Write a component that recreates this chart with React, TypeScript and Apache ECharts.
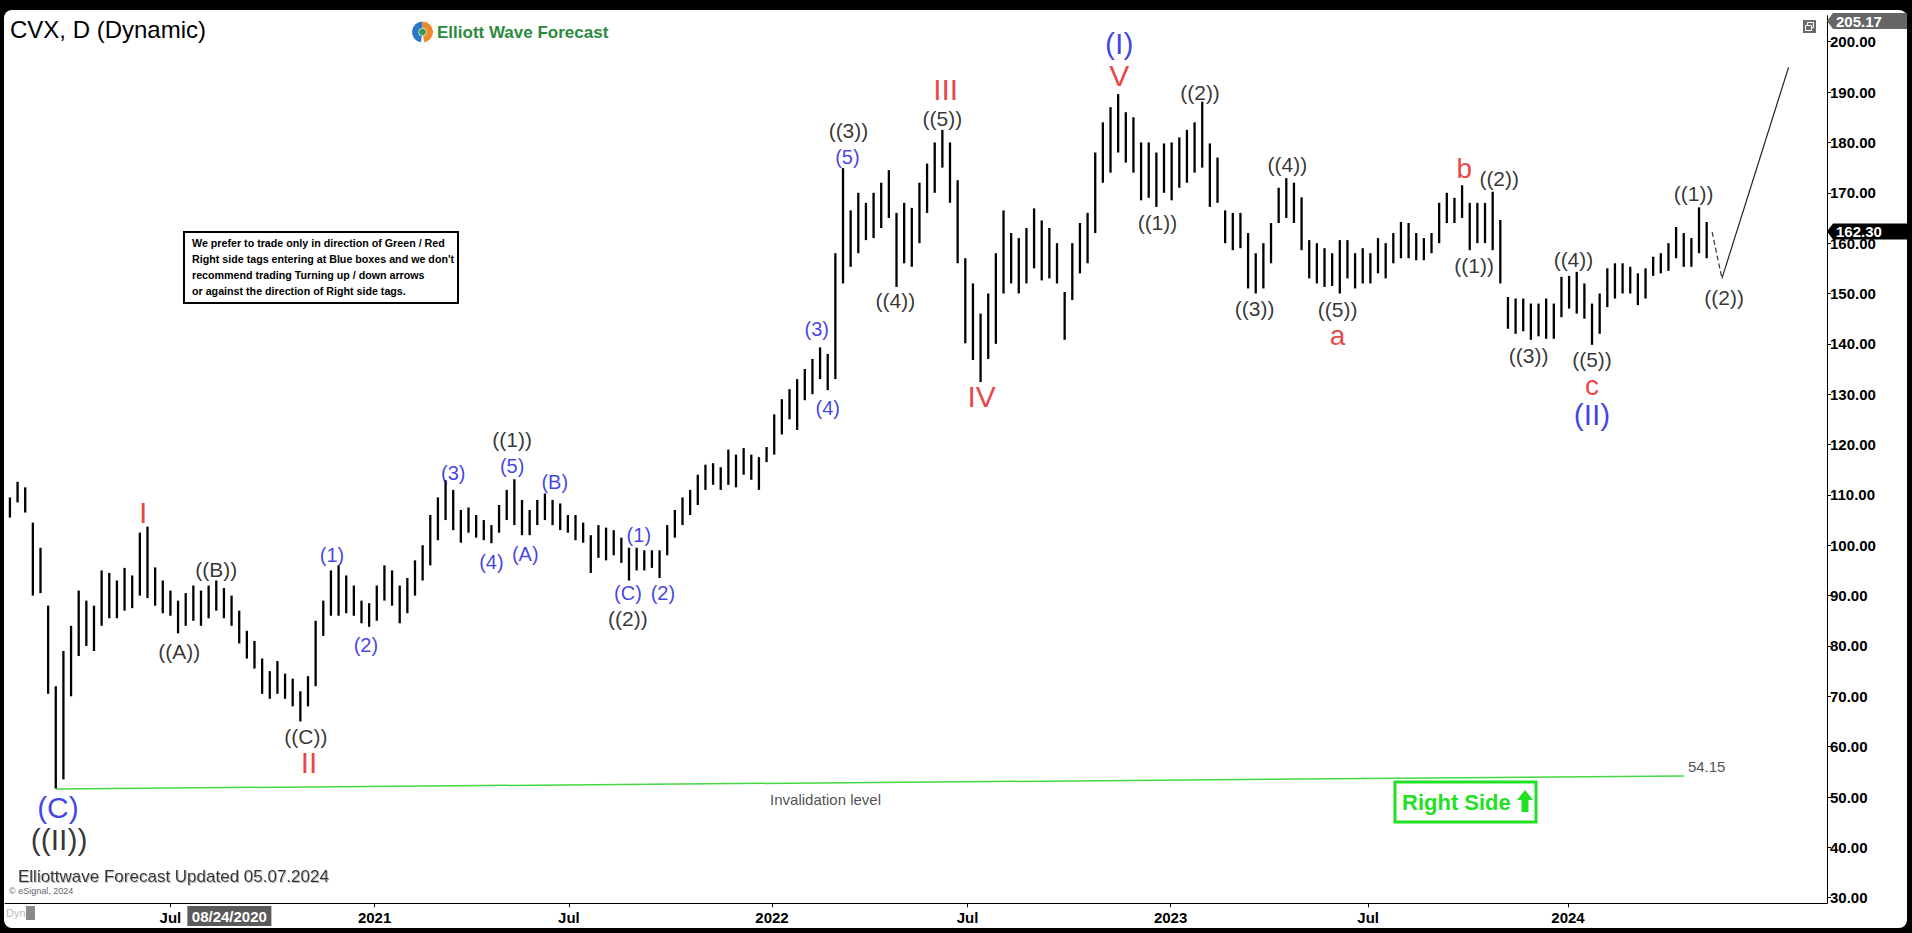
import React, { useEffect, useRef } from "react";
import * as echarts from "echarts";

// ---------- data ----------
const symbolTitle = "CVX, D (Dynamic)";
const weekStart = "2020-02-03"; // first weekly bar (Monday)

// weekly lows / highs (USD), one entry per week starting at weekStart
const weeklyLow = [
  105.5, 108.5, 106.5, 90.0, 90.5, 70.5, 51.7, 53.5, 70.0, 78.0,
  80.0, 79.0, 84.0, 85.5, 85.5, 87.0, 87.5, 90.0, 89.5, 88.0,
  86.5, 86.0, 82.5, 84.0, 85.0, 84.0, 85.5, 87.0, 85.5, 84.0,
  80.5, 77.5, 75.5, 70.5, 69.5, 70.5, 69.5, 68.0, 65.0, 68.0,
  72.0, 82.0, 86.0, 86.0, 86.5, 86.0, 84.5, 83.8, 85.0, 89.0,
  88.0, 84.5, 86.5, 90.0, 93.0, 96.0, 101.0, 105.0, 103.0, 100.5,
  102.5, 101.5, 101.0, 100.4, 102.5, 105.0, 104.0, 102.0, 102.0, 104.0,
  105.0, 104.0, 103.0, 102.5, 101.0, 100.5, 94.5, 97.5, 97.0, 98.0,
  96.5, 93.0, 95.0, 95.0, 95.5, 93.5, 98.0, 101.5, 104.0, 106.0,
  108.0, 111.0, 112.0, 111.0, 112.0, 111.5, 114.0, 113.0, 111.0, 116.5,
  118.0, 122.0, 125.0, 122.9, 128.8, 130.0, 133.0, 130.8, 133.0, 152.0,
  155.3, 158.0, 160.6, 161.0, 163.0, 165.0, 151.3, 156.0, 155.3, 160.0,
  166.0, 170.0, 175.0, 168.0, 156.0, 140.1, 136.8, 132.4, 137.0, 140.0,
  150.0, 152.0, 150.0, 152.0, 155.0, 152.6, 153.0, 152.0, 140.8, 148.7,
  154.0, 156.0, 162.0, 172.0, 174.0, 178.0, 176.0, 174.0, 168.5, 169.0,
  167.2, 170.0, 168.5, 171.0, 172.0, 174.0, 175.0, 167.2, 168.0, 160.0,
  158.6, 159.0, 151.0, 150.0, 151.0, 156.0, 164.0, 165.0, 164.0, 158.6,
  153.0, 152.0, 151.3, 151.5, 150.0, 153.0, 151.0, 152.0, 152.0, 154.0,
  153.0, 156.0, 157.0, 157.0, 156.6, 156.6, 158.0, 160.0, 164.0, 164.0,
  165.0, 158.6, 160.0, 160.0, 158.6, 152.0, 143.0, 142.0, 142.5, 140.8,
  141.5, 141.0, 141.0, 145.3, 147.0, 146.0, 145.0, 139.8, 142.0, 147.3,
  149.0, 150.0, 150.0, 147.7, 149.0, 153.5, 154.0, 154.5, 157.0, 155.3,
  155.3, 158.0, 157.0,
];
const weeklyHigh = [
  109.5, 112.6, 111.5, 104.5, 99.5, 88.0, 72.0, 79.0, 84.0, 91.0,
  89.0, 88.0, 95.0, 94.5, 93.0, 95.5, 94.0, 102.5, 103.7, 95.6,
  93.0, 91.0, 89.0, 90.5, 92.0, 91.0, 92.0, 93.0, 91.5, 90.0,
  87.0, 83.0, 81.0, 77.5, 75.0, 77.0, 74.5, 73.5, 71.0, 74.0,
  85.0, 89.0, 95.0, 96.0, 94.0, 92.0, 89.0, 88.5, 92.0, 96.0,
  95.0, 92.0, 93.5, 97.0, 100.0, 106.0, 109.5, 112.9, 111.0, 107.0,
  107.5, 106.0, 105.0, 104.0, 108.0, 111.0, 113.1, 109.0, 107.0, 109.0,
  110.3, 109.0, 108.3, 106.0, 106.0, 104.5, 102.0, 104.0, 103.5, 103.0,
  101.5, 99.5, 99.5, 99.0, 99.0, 99.0, 104.0, 107.0, 109.5, 111.0,
  114.0, 116.0, 116.3, 115.5, 119.0, 118.0, 119.3, 118.0, 117.5, 119.5,
  126.0, 129.0, 131.0, 133.0, 135.0, 137.0, 139.3, 138.0, 158.0, 174.9,
  166.5, 170.0, 168.0, 170.0, 172.0, 174.5, 166.0, 168.0, 167.0, 172.0,
  175.8, 180.0, 182.5, 180.0, 172.5, 157.0, 152.0, 146.0, 150.0, 158.0,
  166.5, 162.0, 161.0, 163.0, 166.9, 164.5, 163.0, 160.0, 150.3, 160.0,
  164.0, 166.0, 178.0, 184.0, 187.0, 189.6, 186.0, 185.0, 180.0, 180.0,
  178.0, 179.8, 180.0, 181.0, 182.5, 184.0, 188.1, 179.8, 177.0, 166.5,
  166.0, 166.0, 162.0, 158.0, 160.0, 164.0, 171.0, 172.9, 172.0, 169.1,
  160.6, 160.0, 159.0, 158.0, 160.6, 160.6, 158.0, 159.0, 158.0, 161.0,
  160.0, 162.0, 164.2, 164.0, 162.0, 161.0, 162.0, 168.0, 170.0, 169.0,
  171.5, 168.0, 168.0, 168.0, 170.2, 164.6, 149.3, 149.0, 149.0, 148.0,
  148.0, 149.0, 148.0, 153.3, 153.5, 154.3, 152.0, 148.0, 150.0, 155.0,
  156.0, 156.0, 155.3, 154.0, 155.0, 157.3, 158.0, 160.0, 163.2, 162.0,
  161.0, 167.1, 164.2,
];
const lastClose = 162.3;
const axisTopValue = 205.17;
const yTickValues = [30, 40, 50, 60, 70, 80, 90, 100, 110, 120, 130, 140, 150, 160, 170, 180, 190, 200];
const xTickDates = ["2020-07-01", "2021-01-04", "2021-07-01", "2022-01-03", "2022-07-01", "2023-01-03", "2023-07-03", "2024-01-02"];
const xAxisStart = "2020-01-31 12:00";
const xAxisEnd = "2024-08-26 05:00";
const cursorDate = "2020-08-24";
const cursorLabel = "08/24/2020";

const invalidationLine: [string, number][] = [["2020-03-18", 51.6], ["2024-04-17", 54.15]];
const projectionDashed: [string, number][] = [["2024-05-13", 162.2], ["2024-05-22", 153.0]];
const projectionSolid: [string, number][] = [["2024-05-22", 153.0], ["2024-07-22", 194.9]];

// Elliott wave labels: text, date, price, degree
const waveLabels: [string, string, number, string][] = [
  ["(C)", "2020-03-20", 48.0, "primary"],
  ["((II))", "2020-03-21", 41.5, "cycle"],
  ["I", "2020-06-06", 106.6, "inter"],
  ["((A))", "2020-07-09", 78.8, "minor"],
  ["((B))", "2020-08-12", 95.1, "minor"],
  ["((C))", "2020-11-02", 62.1, "minor"],
  ["II", "2020-11-05", 56.9, "inter"],
  ["(1)", "2020-11-26", 98.1, "minute"],
  ["(2)", "2020-12-27", 80.2, "minute"],
  ["(3)", "2021-03-17", 114.3, "minute"],
  ["((1))", "2021-05-10", 121.1, "minor"],
  ["(5)", "2021-05-10", 115.7, "minute"],
  ["(4)", "2021-04-21", 96.7, "minute"],
  ["(A)", "2021-05-22", 98.3, "minute"],
  ["(B)", "2021-06-18", 112.6, "minute"],
  ["(C)", "2021-08-24", 90.5, "minute"],
  ["((2))", "2021-08-24", 85.5, "minor"],
  ["(1)", "2021-09-03", 102.0, "minute"],
  ["(2)", "2021-09-25", 90.5, "minute"],
  ["(3)", "2022-02-13", 142.9, "minute"],
  ["(4)", "2022-02-23", 127.2, "minute"],
  ["(5)", "2022-03-13", 177.1, "minute"],
  ["((3))", "2022-03-14", 182.3, "minor"],
  ["((4))", "2022-04-26", 148.7, "minor"],
  ["((5))", "2022-06-08", 184.8, "minor"],
  ["III", "2022-06-11", 190.6, "inter"],
  ["IV", "2022-07-14", 129.6, "inter"],
  ["(I)", "2022-11-17", 199.6, "primary"],
  ["V", "2022-11-17", 193.3, "inter"],
  ["((1))", "2022-12-22", 164.0, "minor"],
  ["((2))", "2023-01-30", 190.0, "minor"],
  ["((3))", "2023-03-21", 147.1, "minor"],
  ["((4))", "2023-04-20", 175.7, "minor"],
  ["((5))", "2023-06-05", 146.9, "minor"],
  ["a", "2023-06-05", 141.6, "interLetter"],
  ["b", "2023-09-29", 174.9, "interLetter"],
  ["((1))", "2023-10-08", 155.5, "minor"],
  ["((2))", "2023-10-31", 172.9, "minor"],
  ["((3))", "2023-11-27", 137.6, "minor"],
  ["((4))", "2024-01-07", 156.8, "minor"],
  ["((5))", "2024-01-24", 136.8, "minor"],
  ["c", "2024-01-24", 131.8, "interLetter"],
  ["(II)", "2024-01-24", 125.9, "primary"],
  ["((1))", "2024-04-26", 169.8, "minor"],
  ["((2))", "2024-05-24", 149.3, "minor"],
  ["Invalidation level", "2022-02-21", 49.6, "note"],
  ["54.15", "2024-05-08", 56.0, "note"],
];

const infoLines = [
  "We prefer to trade only in direction of Green / Red",
  "Right side tags entering at Blue boxes and we don't",
  "recommend trading Turning up / down arrows",
  "or against the direction of Right side tags.",
];

// ---------- styles ----------
const FONT = "Arial, 'Liberation Sans', sans-serif";
const degreeStyle: Record<string, { color: string; size: number }> = {
  minor: { color: "#000000", size: 21 },
  minute: { color: "#1212dc", size: 20 },
  inter: { color: "#e41414", size: 30 },
  interLetter: { color: "#e41414", size: 28 },
  primary: { color: "#1212dc", size: 30 },
  cycle: { color: "#000000", size: 30 },
  note: { color: "#222222", size: 15 },
};

function ts(s: string): number {
  const [d, t] = s.split(" ");
  const [y, m, dd] = d.split("-").map(Number);
  let hh = 0;
  let mm = 0;
  if (t) [hh, mm] = t.split(":").map(Number);
  return new Date(y, m - 1, dd, hh, mm).getTime();
}

function buildBars() {
  const [y, m, d] = weekStart.split("-").map(Number);
  return weeklyLow.map((lo, i) => [new Date(y, m - 1, d + 7 * i + 2).getTime(), lo, weeklyHigh[i]]);
}

function priceBox(yc: number, text: string, fill: string, id: string) {
  return {
    type: "group",
    id,
    z: 100,
    children: [
      {
        type: "polygon",
        shape: { points: [[1827, yc], [1833, yc - 8], [1907, yc - 8], [1907, yc + 8], [1833, yc + 8]] },
        style: { fill },
        z: 100,
      },
      {
        type: "text",
        z: 101,
        style: { x: 1836, y: yc, text, fill: "#fff", font: `bold 15px ${FONT}`, verticalAlign: "middle", align: "left" },
      },
    ],
  };
}

function buildGraphics(yTop: number, yLast: number, xCursor: number) {
  const g: any[] = [];
  g.push({ type: "text", id: "title", style: { x: 10, y: 29, text: symbolTitle, font: `24px ${FONT}`, fill: "#000", verticalAlign: "middle" } });
  g.push({
    type: "group", id: "logo", x: 422.5, y: 32,
    children: [
      { type: "sector", shape: { cx: 0, cy: 0, r: 10.5, r0: 4, startAngle: Math.PI * 0.55, endAngle: Math.PI * 1.5 }, style: { fill: "#2a78c8" } },
      { type: "sector", shape: { cx: 0, cy: 0, r: 10.5, r0: 4, startAngle: -Math.PI * 0.5, endAngle: Math.PI * 0.45 }, style: { fill: "#f0882a" } },
      { type: "circle", shape: { cx: 0, cy: 0, r: 3.5 }, style: { fill: "#3a9a4a" } },
    ],
  });
  g.push({ type: "text", id: "brand", style: { x: 437, y: 32, text: "Elliott Wave Forecast", font: `bold 17px ${FONT}`, fill: "#2b8a3e", verticalAlign: "middle" } });
  g.push({ type: "rect", id: "infoBox", z: 50, shape: { x: 184, y: 232, width: 274, height: 71 }, style: { fill: "#fff", stroke: "#000", lineWidth: 2 } });
  infoLines.forEach((t, i) => {
    g.push({ type: "text", id: "info" + i, z: 51, style: { x: 192, y: 243 + i * 16, text: t, font: `bold 10.7px ${FONT}`, fill: "#000", verticalAlign: "middle" } });
  });
  g.push({ type: "rect", id: "rsBox", z: 50, shape: { x: 1395, y: 782, width: 141, height: 40 }, style: { fill: "#fff", stroke: "#22e022", lineWidth: 3 } });
  g.push({ type: "text", id: "rsText", z: 51, style: { x: 1402, y: 802, text: "Right Side", font: `bold 22px ${FONT}`, fill: "#22e022", verticalAlign: "middle" } });
  g.push({
    type: "polygon", id: "rsArrow", z: 51,
    shape: { points: [[1525, 790], [1533, 800], [1528.5, 800], [1528.5, 812], [1521.5, 812], [1521.5, 800], [1517, 800]] },
    style: { fill: "#22e022" },
  });
  g.push({
    type: "text", id: "footer",
    style: { x: 18, y: 876, text: "Elliottwave Forecast Updated 05.07.2024", font: `17px ${FONT}`, fill: "#333", verticalAlign: "middle", textShadowColor: "#bbb", textShadowOffsetX: 1, textShadowOffsetY: 1, textShadowBlur: 1 },
  });
  g.push({ type: "text", id: "esig", style: { x: 9, y: 891, text: "© eSignal, 2024", font: `9px ${FONT}`, fill: "#666", verticalAlign: "middle" } });
  g.push({ type: "text", id: "dyn", style: { x: 6, y: 913, text: "Dyn", font: `11px ${FONT}`, fill: "#bbb", verticalAlign: "middle" } });
  g.push({ type: "rect", id: "dynIcon", shape: { x: 26, y: 906, width: 9, height: 14 }, style: { fill: "#8a8a8a" } });
  g.push({
    type: "group", id: "cursor", z: 100,
    children: [
      { type: "rect", z: 100, shape: { x: xCursor - 42, y: 906, width: 84, height: 20 }, style: { fill: "#5a5a5a" } },
      { type: "text", z: 101, style: { x: xCursor, y: 916, text: cursorLabel, font: `bold 15px ${FONT}`, fill: "#fff", align: "center", verticalAlign: "middle" } },
    ],
  });
  g.push(priceBox(Math.max(yTop, 21), axisTopValue.toFixed(2), "#666666", "topBox"));
  g.push(priceBox(yLast, lastClose.toFixed(2), "#000000", "lastBox"));
  g.push({
    type: "group", id: "icon", x: 1803, y: 20,
    children: [
      { type: "rect", shape: { x: 0, y: 0, width: 13, height: 13 }, style: { fill: "#6b6b6b" } },
      { type: "rect", shape: { x: 4.5, y: 2.5, width: 6, height: 5 }, style: { fill: "none", stroke: "#fff", lineWidth: 1 } },
      { type: "rect", shape: { x: 2.5, y: 5.5, width: 6, height: 5 }, style: { fill: "#6b6b6b", stroke: "#fff", lineWidth: 1 } },
    ],
  });
  return g;
}

export default function App() {
  const ref = useRef<HTMLDivElement>(null);

  useEffect(() => {
    if (!ref.current) return;
    const chart = echarts.init(ref.current, null, { renderer: "svg" });

    const bars = buildBars();
    const labelData = waveLabels.map(([text, date, price, kind]) => {
      const st = degreeStyle[kind];
      return {
        value: [ts(date), price],
        label: {
          show: true,
          position: "inside",
          formatter: text,
          color: st.color,
          fontSize: st.size,
          lineHeight: Math.round(st.size * 0.72),
          fontFamily: FONT,
          textBorderWidth: 0,
        },
      };
    });
    const xTicks = xTickDates.map(ts);

    const option: any = {
      animation: false,
      backgroundColor: "transparent",
      grid: { left: 5, right: 85, top: 15.7, bottom: 29.7, containLabel: false },
      xAxis: {
        type: "value",
        min: ts(xAxisStart),
        max: ts(xAxisEnd),
        axisLine: { show: true, onZero: false, lineStyle: { color: "#000", width: 1 } },
        axisTick: { show: true, length: 4, lineStyle: { color: "#000" }, customValues: xTicks },
        axisLabel: {
          show: true,
          customValues: xTicks,
          color: "#000",
          fontWeight: "bold",
          fontSize: 15,
          fontFamily: FONT,
          margin: 7,
          formatter: (v: number) => {
            const d = new Date(v);
            return d.getMonth() === 0 ? String(d.getFullYear()) : "Jul";
          },
        },
        splitLine: { show: false },
      },
      yAxis: {
        type: "value",
        position: "right",
        min: 28.89,
        max: axisTopValue,
        axisLine: { show: true, lineStyle: { color: "#000", width: 1 } },
        axisTick: { show: true, length: 4, lineStyle: { color: "#000" }, customValues: yTickValues },
        axisLabel: {
          show: true,
          customValues: yTickValues,
          color: "#000",
          fontWeight: "bold",
          fontSize: 15,
          fontFamily: FONT,
          margin: 3,
          formatter: (v: number) => v.toFixed(2),
        },
        splitLine: { show: false },
      },
      series: [
        {
          type: "custom",
          name: "CVX",
          data: bars,
          encode: { x: 0, y: [1, 2] },
          z: 3,
          renderItem: (_p: any, api: any) => {
            const t = api.value(0);
            const lo = api.coord([t, api.value(1)]);
            const hi = api.coord([t, api.value(2)]);
            return {
              type: "line",
              shape: { x1: lo[0], y1: lo[1], x2: hi[0], y2: hi[1] },
              style: { stroke: "#000", lineWidth: 2.3 },
            };
          },
        },
        {
          type: "line",
          name: "Invalidation",
          data: invalidationLine.map(([d, v]) => [ts(d), v]),
          symbol: "none",
          lineStyle: { color: "#44d844", width: 1.5 },
          z: 2,
          silent: true,
        },
        {
          type: "line",
          name: "ProjectionDashed",
          data: projectionDashed.map(([d, v]) => [ts(d), v]),
          symbol: "none",
          lineStyle: { color: "#333", width: 1.2, type: [5, 3] },
          z: 2,
          silent: true,
        },
        {
          type: "line",
          name: "ProjectionSolid",
          data: projectionSolid.map(([d, v]) => [ts(d), v]),
          symbol: "none",
          lineStyle: { color: "#222", width: 1.2 },
          z: 2,
          silent: true,
        },
        {
          type: "scatter",
          name: "Waves",
          data: labelData,
          symbolSize: 1,
          itemStyle: { color: "rgba(0,0,0,0)" },
          z: 10,
          silent: true,
        },
      ],
    };

    chart.setOption(option);
    const yTop = chart.convertToPixel({ yAxisIndex: 0 }, axisTopValue) as number;
    const yLast = chart.convertToPixel({ yAxisIndex: 0 }, lastClose) as number;
    const xCursor = chart.convertToPixel({ xAxisIndex: 0 }, ts(cursorDate)) as number;
    chart.setOption({ graphic: buildGraphics(yTop, yLast, xCursor) });

    return () => chart.dispose();
  }, []);

  return (
    <div style={{ position: "fixed", left: 0, top: 0, width: 1912, height: 933, background: "#000", overflow: "hidden" }}>
      <div style={{ position: "absolute", left: 4, top: 10, width: 1903, height: 918, background: "#fff", borderRadius: 8 }} />
      <div ref={ref} style={{ position: "absolute", left: 0, top: 0, width: 1912, height: 933 }} />
    </div>
  );
}
